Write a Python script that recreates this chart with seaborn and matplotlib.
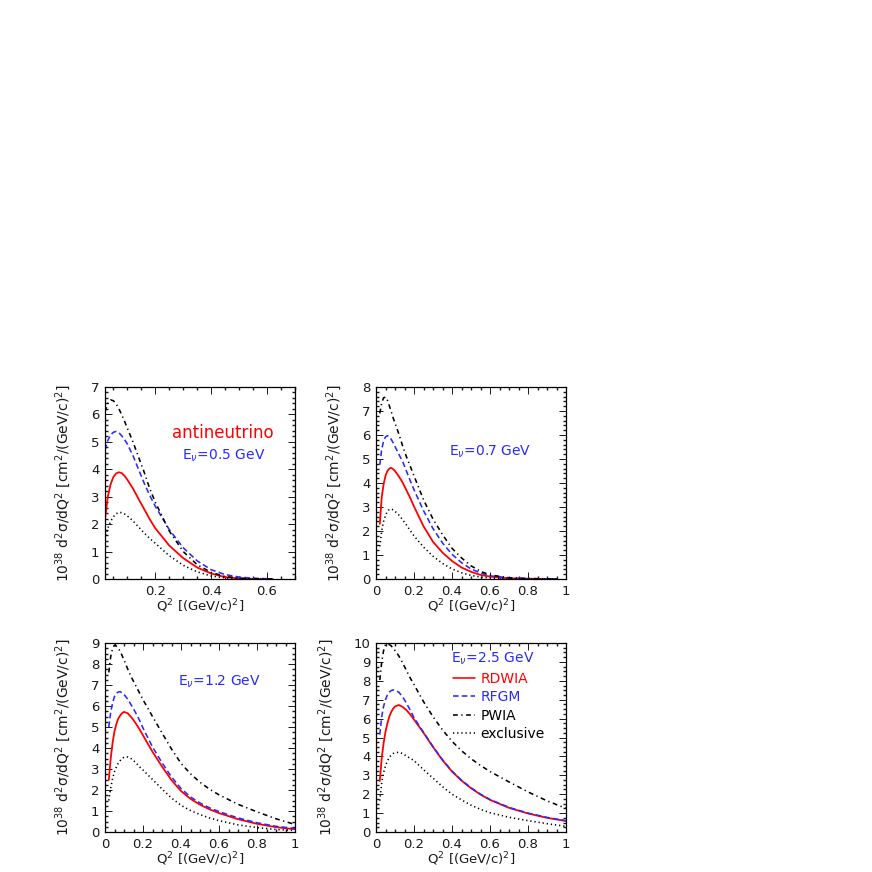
import matplotlib.pyplot as plt
import pandas as pd
import seaborn as sns
from matplotlib.ticker import MultipleLocator

# Q^2 grids [(GeV/c)^2] and cross sections, one set per beam energy
q2_e05 = [0.02, 0.03, 0.04, 0.05, 0.06, 0.07, 0.08, 0.09, 0.1, 0.12, 0.14, 0.16, 0.18, 0.2,
          0.25, 0.3, 0.35, 0.4, 0.45, 0.5, 0.55, 0.6, 0.62]
rdwia_e05 = [2.16, 3.0, 3.45, 3.72, 3.85, 3.89, 3.86, 3.76, 3.62, 3.3, 2.92, 2.55, 2.18, 1.85,
             1.22, 0.76, 0.42, 0.2, 0.07, 0.02, 0.0, 0.0, 0.0]
rfgm_e05 = [4.7, 5.05, 5.25, 5.35, 5.38, 5.33, 5.22, 5.08, 4.92, 4.5, 4.0, 3.5, 3.05, 2.65,
            1.8, 1.14, 0.66, 0.34, 0.16, 0.07, 0.03, 0.01, 0.0]
pwia_e05 = [6.1, 6.4, 6.53, 6.5, 6.38, 6.2, 5.98, 5.75, 5.5, 5.0, 4.45, 3.9, 3.3, 2.8,
            1.75, 1.0, 0.52, 0.24, 0.09, 0.03, 0.01, 0.0, 0.0]
excl_e05 = [1.43, 1.85, 2.1, 2.27, 2.38, 2.43, 2.42, 2.37, 2.3, 2.12, 1.9, 1.68, 1.48, 1.3,
            0.85, 0.5, 0.26, 0.11, 0.04, 0.01, 0.0, 0.0, 0.0]

q2_e07 = [0.02, 0.03, 0.04, 0.05, 0.06, 0.07, 0.08, 0.09, 0.1, 0.12, 0.14, 0.16, 0.18, 0.2,
          0.25, 0.3, 0.35, 0.4, 0.45, 0.5, 0.55, 0.6, 0.7, 0.8, 0.95]
rdwia_e07 = [2.3, 3.4, 3.95, 4.3, 4.5, 4.6, 4.63, 4.58, 4.5, 4.28, 4.02, 3.7, 3.38, 3.02,
             2.2, 1.55, 1.1, 0.75, 0.48, 0.3, 0.17, 0.1, 0.03, 0.01, 0.0]
rfgm_e07 = [4.76, 5.4, 5.75, 5.92, 5.97, 5.93, 5.82, 5.68, 5.52, 5.2, 4.9, 4.5, 4.1, 3.72,
            2.85, 2.1, 1.5, 1.03, 0.68, 0.42, 0.25, 0.13, 0.04, 0.01, 0.0]
pwia_e07 = [6.9, 7.35, 7.55, 7.58, 7.45, 7.22, 6.98, 6.72, 6.5, 6.05, 5.55, 5.1, 4.7, 4.3,
            3.3, 2.5, 1.85, 1.28, 0.88, 0.55, 0.32, 0.17, 0.05, 0.02, 0.0]
excl_e07 = [1.36, 2.0, 2.4, 2.65, 2.82, 2.9, 2.92, 2.88, 2.82, 2.67, 2.47, 2.25, 2.02, 1.8,
            1.33, 0.95, 0.65, 0.42, 0.26, 0.15, 0.08, 0.04, 0.01, 0.0, 0.0]

q2_e12 = [0.02, 0.03, 0.04, 0.05, 0.06, 0.07, 0.08, 0.09, 0.1, 0.12, 0.14, 0.16, 0.18, 0.2,
          0.25, 0.3, 0.35, 0.4, 0.45, 0.5, 0.55, 0.6, 0.7, 0.8, 0.9, 1.0]
rdwia_e12 = [2.48, 3.5, 4.25, 4.8, 5.15, 5.4, 5.55, 5.66, 5.72, 5.65, 5.45, 5.2, 4.92, 4.6,
             3.82, 3.12, 2.47, 1.95, 1.58, 1.3, 1.08, 0.9, 0.61, 0.39, 0.23, 0.13]
rfgm_e12 = [5.0, 5.7, 6.15, 6.45, 6.6, 6.67, 6.68, 6.62, 6.55, 6.32, 6.02, 5.7, 5.35, 4.95,
            4.05, 3.3, 2.62, 2.07, 1.67, 1.38, 1.15, 0.97, 0.67, 0.44, 0.27, 0.17]
pwia_e12 = [7.6, 8.35, 8.75, 8.9, 8.85, 8.75, 8.6, 8.4, 8.2, 7.75, 7.35, 7.0, 6.65, 6.3,
            5.5, 4.72, 3.95, 3.27, 2.77, 2.37, 2.04, 1.77, 1.32, 0.96, 0.63, 0.36]
excl_e12 = [1.5, 2.1, 2.55, 2.88, 3.1, 3.28, 3.4, 3.5, 3.56, 3.57, 3.48, 3.32, 3.12, 2.95,
            2.5, 2.05, 1.62, 1.27, 1.02, 0.83, 0.67, 0.54, 0.34, 0.21, 0.12, 0.07]

q2_e25 = [0.02, 0.03, 0.04, 0.05, 0.06, 0.07, 0.08, 0.09, 0.1, 0.12, 0.14, 0.16, 0.18, 0.2,
          0.25, 0.3, 0.35, 0.4, 0.45, 0.5, 0.55, 0.6, 0.7, 0.8, 0.9, 1.0]
rdwia_e25 = [2.7, 3.9, 4.7, 5.3, 5.75, 6.1, 6.35, 6.52, 6.64, 6.72, 6.62, 6.45, 6.22, 5.95,
             5.25, 4.5, 3.8, 3.2, 2.72, 2.32, 1.98, 1.7, 1.28, 0.98, 0.75, 0.58]
rfgm_e25 = [5.15, 6.1, 6.65, 7.0, 7.25, 7.4, 7.48, 7.52, 7.5, 7.4, 7.15, 6.82, 6.45, 6.05,
            5.27, 4.52, 3.82, 3.22, 2.74, 2.34, 2.0, 1.72, 1.3, 1.0, 0.77, 0.6]
pwia_e25 = [8.04, 9.0, 9.6, 9.9, 9.97, 9.92, 9.85, 9.72, 9.6, 9.32, 8.95, 8.55, 8.15, 7.8,
            6.9, 6.1, 5.4, 4.8, 4.3, 3.88, 3.52, 3.2, 2.65, 2.12, 1.65, 1.25]
excl_e25 = [1.66, 2.6, 3.15, 3.5, 3.75, 3.95, 4.07, 4.15, 4.19, 4.22, 4.15, 4.02, 3.9, 3.78,
            3.3, 2.85, 2.4, 2.0, 1.7, 1.42, 1.2, 1.02, 0.78, 0.6, 0.44, 0.3]

models = ["RDWIA", "RFGM", "PWIA", "exclusive"]

palette = {"RDWIA": "#ff0000", "RFGM": "#2a2aff", "PWIA": "black", "exclusive": "black"}
dashes = {"RDWIA": "", "RFGM": (3.5, 2.0), "PWIA": (3.0, 2.2, 0.8, 2.2), "exclusive": (0.8, 1.8)}


def make_frame(q2, curves):
    rows = []
    for name, values in zip(models, curves):
        rows.append(pd.DataFrame({"q2": q2, "xsec": values, "model": name}))
    return pd.concat(rows, ignore_index=True)


panels = [
    make_frame(q2_e05, [rdwia_e05, rfgm_e05, pwia_e05, excl_e05]),
    make_frame(q2_e07, [rdwia_e07, rfgm_e07, pwia_e07, excl_e07]),
    make_frame(q2_e12, [rdwia_e12, rfgm_e12, pwia_e12, excl_e12]),
    make_frame(q2_e25, [rdwia_e25, rfgm_e25, pwia_e25, excl_e25]),
]

sns.set_theme(style="ticks")
plt.rcParams.update({
    "font.family": ["DejaVu Sans"],
    "font.size": 9.5,
    "text.color": "#1a1a1a",
    "axes.labelcolor": "#1a1a1a",
    "xtick.color": "#1a1a1a",
    "ytick.color": "#1a1a1a",
    "xtick.direction": "in",
    "ytick.direction": "in",
    "xtick.top": True,
    "ytick.right": True,
    "xtick.major.size": 5,
    "ytick.major.size": 5,
    "xtick.minor.size": 2.5,
    "ytick.minor.size": 2.5,
    "xtick.major.width": 0.7,
    "ytick.major.width": 0.7,
    "axes.linewidth": 0.9,
    "axes.edgecolor": "black",
})

fig = plt.figure(figsize=(8.72, 8.72), dpi=100)
W = 190 / 872
boxes = [
    (105 / 872, 1 - 579 / 872, W, 192 / 872),
    (376 / 872, 1 - 579 / 872, W, 192 / 872),
    (105 / 872, 1 - 832 / 872, W, 189 / 872),
    (376 / 872, 1 - 832 / 872, W, 189 / 872),
]
xlims = [(0.02, 0.7), (0, 1), (0, 1), (0, 1)]
ylims = [7, 8, 9, 10]
yminor = [0.2, 0.2, 0.25, 0.25]
ylabel = r"10$^{38}$ d$^{2}$σ/dQ$^{2}$ [cm$^{2}$/(GeV/c)$^{2}$]"
xlabel = r"Q$^{2}$ [(GeV/c)$^{2}$]"

axes = []
for i, (box, df) in enumerate(zip(boxes, panels)):
    ax = fig.add_axes(box)
    sns.lineplot(data=df, x="q2", y="xsec", hue="model", style="model",
                 hue_order=models, style_order=models, palette=palette,
                 dashes=dashes, linewidth=1.15, legend=(i == 3), ax=ax)
    for line in ax.lines[:1]:
        line.set_linewidth(1.3)
    ax.set_xlim(*xlims[i])
    ax.set_ylim(0, ylims[i])
    ax.xaxis.set_major_locator(MultipleLocator(0.2))
    ax.xaxis.set_minor_locator(MultipleLocator(0.05))
    ax.yaxis.set_major_locator(MultipleLocator(1))
    ax.yaxis.set_minor_locator(MultipleLocator(yminor[i]))
    ax.xaxis.set_major_formatter(lambda v, pos: "0" if abs(v) < 1e-9 else ("1" if abs(v - 1) < 1e-9 else f"{v:.1f}"))
    ax.tick_params(which="both", top=True, right=True, labelsize=9.5, pad=4)
    ax.set_xlabel(xlabel, fontsize=9.5, labelpad=0)
    ax.set_ylabel(ylabel, fontsize=10, labelpad=13)
    axes.append(ax)

ax1, ax2, ax3, ax4 = axes
ax1.text(0.44, 5.32, "antineutrino", color="#ff0000", fontsize=12, ha="center", va="center")
ax1.text(0.445, 4.5, r"E$_\nu$=0.5 GeV", color="#2a2aff", fontsize=10, ha="center", va="center")
ax2.text(0.6, 5.32, r"E$_\nu$=0.7 GeV", color="#2a2aff", fontsize=10, ha="center", va="center")
ax3.text(0.6, 7.14, r"E$_\nu$=1.2 GeV", color="#2a2aff", fontsize=10, ha="center", va="center")
ax4.text(0.397, 9.18, r"E$_\nu$=2.5 GeV", color="#2a2aff", fontsize=10, ha="left", va="center")

leg = ax4.legend(loc="upper left", bbox_to_anchor=(0.375, 0.875), frameon=False,
                 fontsize=10, handlelength=1.6, handletextpad=0.4, labelspacing=0.3,
                 borderaxespad=0.0)
for text, name in zip(leg.get_texts(), models):
    text.set_color(palette[name])

fig.savefig("out.png", dpi=100)
